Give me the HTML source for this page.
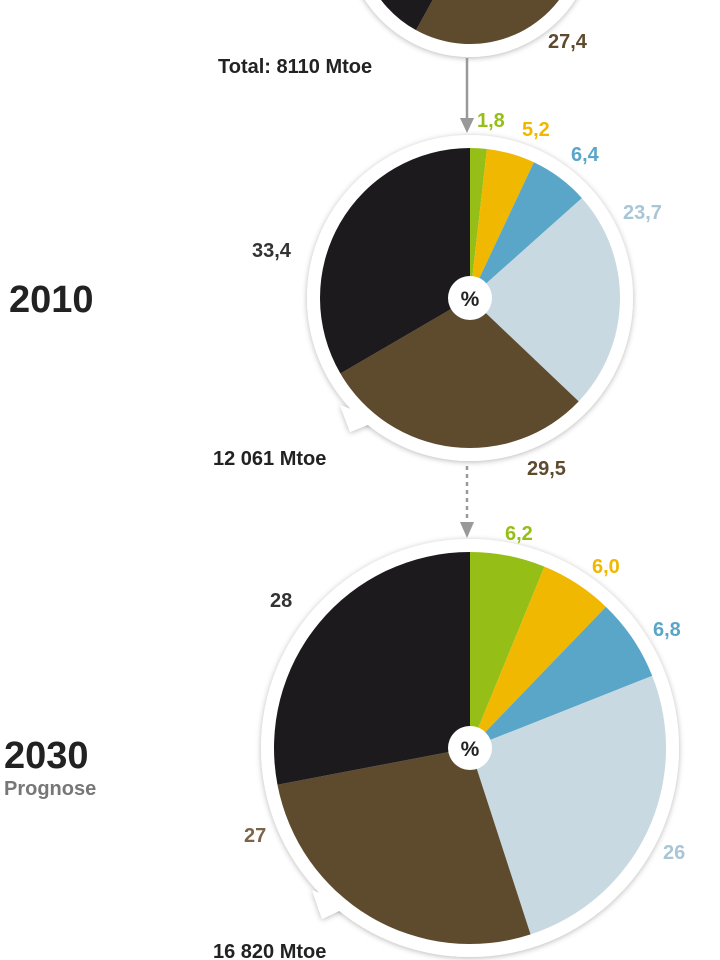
<!DOCTYPE html>
<html><head><meta charset="utf-8"><style>
html,body{margin:0;padding:0;background:#fff;}
svg{display:block;font-family:"Liberation Sans",sans-serif;}
</style></head><body>
<svg id="s" width="720" height="960" viewBox="0 0 720 960" xmlns="http://www.w3.org/2000/svg">
<defs>
<filter id="sh" x="-20%" y="-20%" width="140%" height="140%"><feDropShadow dx="0" dy="1" stdDeviation="3" flood-color="#000" flood-opacity="0.28"/></filter>
</defs>
<g id="pies"></g>
<line x1="467" y1="58" x2="467" y2="122" stroke="#999" stroke-width="2.5"/>
<polygon points="460,118 474,118 467,133" fill="#999"/>
<line x1="467" y1="466" x2="467" y2="525" stroke="#999" stroke-width="2.5" stroke-dasharray="4,4"/>
<polygon points="460,522 474,522 467,538" fill="#999"/>
<g font-size="20" font-weight="bold">
<text x="548" y="48" fill="#5e4a2d">27,4</text>
<text x="218" y="73" fill="#222" font-size="20">Total: 8110 Mtoe</text>
<text x="477" y="127" fill="#95bf17">1,8</text>
<text x="522" y="136" fill="#f0b800">5,2</text>
<text x="571" y="161" fill="#5aa6c8">6,4</text>
<text x="623" y="219" fill="#a9c6d6">23,7</text>
<text x="252" y="257" fill="#333">33,4</text>
<text x="527" y="475" fill="#5e4a2d">29,5</text>
<text x="213" y="465" fill="#222">12 061 Mtoe</text>
<text x="505" y="540" fill="#95bf17">6,2</text>
<text x="592" y="573" fill="#f0b800">6,0</text>
<text x="653" y="636" fill="#5aa6c8">6,8</text>
<text x="663" y="859" fill="#a9c6d6">26</text>
<text x="244" y="842" fill="#7a6548">27</text>
<text x="270" y="607" fill="#333">28</text>
<text x="213" y="958" fill="#222">16 820 Mtoe</text>
<text x="9" y="312" fill="#222" font-size="38">2010</text>
<text x="4" y="768" fill="#222" font-size="38">2030</text>
<text x="4" y="795" fill="#777" font-size="20">Prognose</text>
</g>
</svg>
<script>
var C=["#95bf17","#f0b800","#5aa6c8","#c8d9e1","#5e4a2d","#1c1a1d"];
var g=document.getElementById("pies"),NS="http://www.w3.org/2000/svg";
function el(t,a){var e=document.createElementNS(NS,t);for(var k in a)e.setAttribute(k,a[k]);g.appendChild(e);return e;}
function pie(cx,cy,r,vals,tail,pct){
 if(tail) el("polygon",{points:tail,fill:"#fff",filter:"url(#sh)"});
 el("circle",{cx:cx,cy:cy,r:r+13,fill:"#fff",filter:"url(#sh)"});
 if(tail) el("polygon",{points:tail,fill:"#fff"});
 var a=0;
 for(var i=0;i<vals.length;i++){
  var a0=a/100*2*Math.PI,a1=(a+vals[i])/100*2*Math.PI;a+=vals[i];
  var x0=cx+r*Math.sin(a0),y0=cy-r*Math.cos(a0),x1=cx+r*Math.sin(a1),y1=cy-r*Math.cos(a1);
  el("path",{d:"M"+cx+","+cy+"L"+x0+","+y0+"A"+r+","+r+" 0 "+((vals[i]>50)?1:0)+" 1 "+x1+","+y1+"Z",fill:C[i]});
 }
 if(pct){el("circle",{cx:cx,cy:cy,r:22,fill:"#fff"});
  var t=el("text",{x:cx,y:cy+8,"text-anchor":"middle","font-size":"21","font-weight":"bold",fill:"#222"});t.textContent="%";}
}
pie(470,-68,112,[4,5,6,15.6,27.4,42],"",false);
pie(470,298,150,[1.8,5.2,6.4,23.7,29.5,33.4],"340,405 350,432 380,420",true);
pie(470,748,196,[6.2,6.0,6.8,26,27,28],"312,890 322,919 352,905",true);
</script>
</body></html>
